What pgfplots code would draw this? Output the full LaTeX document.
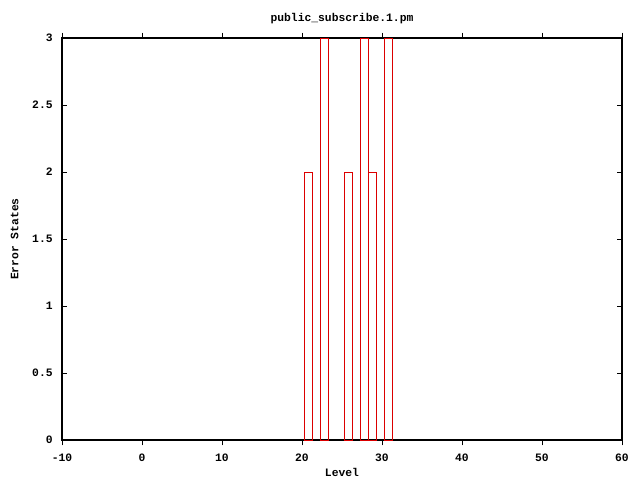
\documentclass[border=0pt]{standalone}
\usepackage{pgfplots}
\pgfplotsset{compat=1.18}
\usepackage{fontspec}
\setmainfont{Liberation Mono}
\setmonofont{Liberation Mono}
\definecolor{gpred}{RGB}{220,0,0}
\begin{document}
\begin{tikzpicture}
\path[use as bounding box] (0pt,0pt) rectangle (480pt,360pt);
\begin{axis}[
  at={(46.5pt,30pt)}, anchor=south west,
  scale only axis,
  width=420pt, height=301.5pt,
  xmin=-10, xmax=60, ymin=0, ymax=3,
  xtick={-10,0,...,60},
  ytick={0,0.5,1,1.5,2,2.5,3},
  tick align=inside,
  major tick length=4pt,
  tick style={black, line width=0.6pt},
  axis line style={black, line width=0.8pt},
  /pgf/number format/assume math mode=true,
  ticklabel style={font=\fontsize{8.5}{10}\selectfont\bfseries},
  yticklabel style={/pgf/number format/fixed, /pgf/number format/precision=1, xshift=-3.5pt},
  xticklabel style={yshift=-3pt},
  label style={font=\fontsize{8.5}{10}\selectfont\bfseries},
  title style={font=\fontsize{8.5}{10}\selectfont\bfseries, yshift=1pt},
  title={public\_subscribe.1.pm},
  xlabel={Level},
  ylabel={Error States},
  xlabel style={yshift=2pt},
  ylabel style={yshift=3.5pt},
  ybar, bar width=1, bar shift=-1.5pt,
]
\addplot[draw=gpred, fill=none, line width=0.6pt]
  coordinates {(21,2) (23,3) (26,2) (28,3) (29,2) (31,3)};
\end{axis}
\end{tikzpicture}
\end{document}
